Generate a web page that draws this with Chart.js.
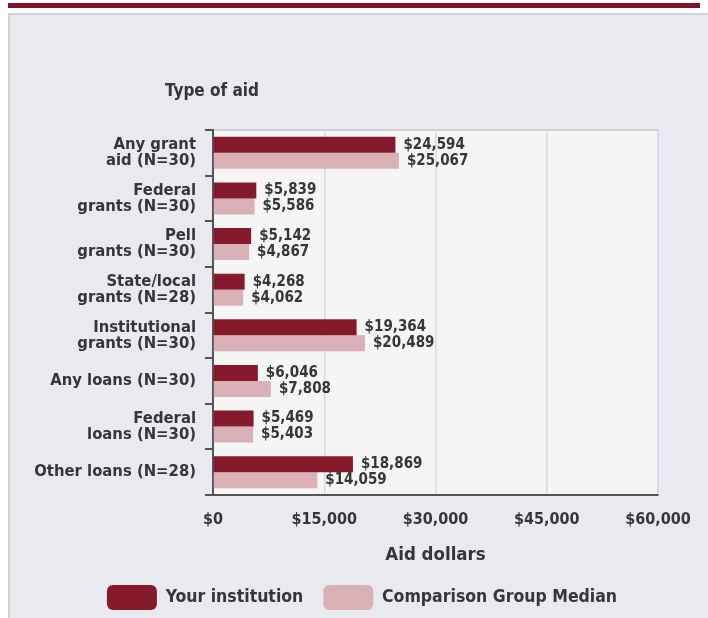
<!DOCTYPE html>
<html>
<head>
<meta charset="utf-8">
<script src="https://cdn.jsdelivr.net/npm/chart.js@4.4.0/dist/chart.umd.min.js"></script>
<style>
  body { margin: 0; background: #fff; width: 708px; height: 618px; overflow: hidden; position: relative; }
  .topbar { position: absolute; left: 8px; top: 3px; width: 692px; height: 5px; background: #7d1427; }
  .panel { position: absolute; left: 8px; top: 13px; right: 0; bottom: 0; background: #e9eaef;
           border-left: 2px solid #d3d3d6; border-top: 2px solid #d3d3d6; }
  #aidChart { position: absolute; left: 0; top: 0; }
</style>
</head>
<body>
<div class="topbar"></div>
<div class="panel"></div>
<canvas id="aidChart" width="708" height="618"></canvas>
<script>
// categories (multi-line labels)
const categories = [
  ['Any grant', 'aid (N=30)'],
  ['Federal', 'grants (N=30)'],
  ['Pell', 'grants (N=30)'],
  ['State/local', 'grants (N=28)'],
  ['Institutional', 'grants (N=30)'],
  'Any loans (N=30)',
  ['Federal', 'loans (N=30)'],
  'Other loans (N=28)'
];
const yourInstitution = [24594, 5839, 5142, 4268, 19364, 6046, 5469, 18869];
const comparisonMedian = [25067, 5586, 4867, 4062, 20489, 7808, 5403, 14059];
const xTicks = [0, 15000, 30000, 45000, 60000];

const FONT = '"DejaVu Sans Condensed", "DejaVu Sans", Arial, sans-serif';
const TEXT = '#363636';

function money(v) {
  return '$' + v.toLocaleString('en-US');
}

// plot background + border lines, value labels and axis titles
const decorations = {
  id: 'decorations',
  afterLayout(chart) {
    // let the long y labels run past the scale box, and nudge the legend down
    chart.scales.y.left = 0;
    chart.legend.top += 2;
    chart.legend.bottom += 2;
  },
  beforeDraw(chart) {
    const { ctx, chartArea: a } = chart;
    ctx.save();
    ctx.fillStyle = '#f5f5f5';
    ctx.fillRect(a.left, a.top, a.right - a.left, a.bottom - a.top);
    ctx.strokeStyle = '#d2d2d4';
    ctx.lineWidth = 2;
    ctx.beginPath();
    ctx.moveTo(a.left, a.top);
    ctx.lineTo(a.right, a.top);
    ctx.lineTo(a.right, a.bottom);
    ctx.stroke();
    ctx.restore();
  },
  afterDatasetsDraw(chart) {
    const { ctx, chartArea: a } = chart;
    ctx.save();
    ctx.font = 'bold 15px ' + FONT;
    ctx.fillStyle = TEXT;
    ctx.textBaseline = 'middle';
    ctx.textAlign = 'left';
    chart.data.datasets.forEach((ds, i) => {
      chart.getDatasetMeta(i).data.forEach((bar, j) => {
        ctx.fillText(money(ds.data[j]), bar.x + 8, bar.y);
      });
    });
    ctx.textAlign = 'center';
    ctx.font = 'bold 17px ' + FONT;
    ctx.fillText('Type of aid', a.left - 1, 92);
    ctx.font = 'bold 18.5px ' + FONT;
    ctx.fillText('Aid dollars', (a.left + a.right) / 2, 555);
    ctx.restore();
  }
};

new Chart(document.getElementById('aidChart').getContext('2d'), {
  type: 'bar',
  data: {
    labels: categories,
    datasets: [
      {
        label: 'Your institution',
        data: yourInstitution,
        backgroundColor: '#861a2d',
        borderWidth: 0,
        barPercentage: 1,
        categoryPercentage: 0.7
      },
      {
        label: 'Comparison Group Median',
        data: comparisonMedian,
        backgroundColor: '#d9b0b6',
        borderWidth: 0,
        barPercentage: 1,
        categoryPercentage: 0.7
      }
    ]
  },
  options: {
    indexAxis: 'y',
    responsive: false,
    animation: false,
    layout: { padding: { top: 130, left: 66, right: 50, bottom: 0 } },
    scales: {
      x: {
        min: 0,
        max: 60000,
        afterBuildTicks(scale) {
          scale.ticks = xTicks.map(v => ({ value: v }));
        },
        afterFit(scale) { scale.height = 68; },
        border: { color: '#555', width: 2 },
        grid: {
          color: ctx => (ctx.index === 0 ? 'rgba(0,0,0,0)' : '#d6dbe5'),
          drawTicks: false,
          lineWidth: 1.5
        },
        ticks: {
          padding: 15,
          color: TEXT,
          font: { family: FONT, size: 16, weight: 'bold' },
          callback: v => money(v)
        }
      },
      y: {
        afterFit(scale) { scale.width = 147; },
        border: { color: '#555', width: 2 },
        grid: {
          drawOnChartArea: false,
          drawTicks: true,
          tickLength: 8,
          color: '#555',
          lineWidth: 2
        },
        ticks: {
          padding: 9,
          color: TEXT,
          font: { family: FONT, size: 16.5, weight: 'bold', lineHeight: 0.97 }
        }
      }
    },
    plugins: {
      legend: {
        position: 'bottom',
        labels: {
          boxWidth: 50,
          boxHeight: 25,
          useBorderRadius: true,
          borderRadius: 6,
          padding: 20,
          color: TEXT,
          font: { family: FONT, size: 17.5, weight: 'bold' }
        }
      },
      tooltip: { enabled: false }
    }
  },
  plugins: [decorations]
});
</script>
</body>
</html>
